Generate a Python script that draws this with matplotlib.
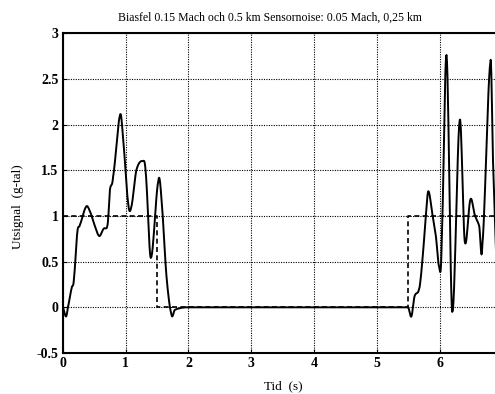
import numpy as np
import matplotlib
matplotlib.use("Agg")
import matplotlib.pyplot as plt

# ─── DATA ────────────────────────────────────────────────────────
t_out = [0.0, 0.05, 0.08, 0.14, 0.175, 0.23, 0.27, 0.37, 0.43, 0.51, 0.58,
         0.65, 0.70, 0.72, 0.75, 0.80, 0.91, 0.96, 1.04, 1.09, 1.17, 1.27,
         1.32, 1.40, 1.52, 1.57, 1.65, 1.73, 1.78, 1.86, 1.95,
         5.50, 5.55, 5.60, 5.66, 5.69, 5.74, 5.78, 5.82, 5.89, 5.94, 5.99,
         6.03, 6.11, 6.20, 6.32, 6.40, 6.49, 6.56, 6.63, 6.68, 6.81, 6.85, 6.90]
u_out = [0.0, -0.10, 0.0, 0.21, 0.30, 0.82, 0.90, 1.10, 1.05, 0.89, 0.78,
         0.86, 0.87, 0.96, 1.29, 1.43, 2.10, 1.83, 1.14, 1.10, 1.50, 1.60,
         1.47, 0.54, 1.38, 1.18, 0.34, -0.08, -0.03, -0.01, 0.0,
         0.0, -0.10, 0.12, 0.17, 0.27, 0.63, 1.00, 1.27, 1.00, 0.78, 0.45,
         0.63, 2.76, -0.05, 2.05, 0.72, 1.18, 1.01, 0.89, 0.68, 2.69, 1.60, 0.60]

t_ref = [0.0, 1.5, 1.5, 5.5, 5.5, 7.0]
u_ref = [1.0, 1.0, 0.0, 0.0, 1.0, 1.0]

title = "Biasfel 0.15 Mach och 0.5 km Sensornoise: 0.05 Mach, 0,25 km"
xlabel = "Tid  (s)"
ylabel = "Utsignal  (g-tal)"
xticks = [0, 1, 2, 3, 4, 5, 6]
yticks = [-0.5, 0, 0.5, 1, 1.5, 2, 2.5, 3]
ytick_labels = ["-0.5", "0", "0.5", "1", "1.5", "2", "2.5", "3"]

plt.rcParams["font.family"] = ["Liberation Serif", "DejaVu Serif"]

fig = plt.figure(figsize=(4.95, 3.94), dpi=100)
ax = fig.add_axes([0.127, 0.104, 0.888, 0.812])

# smooth the traced curve a little within each segment
def smooth(t, u, n=12):
    t = np.asarray(t); u = np.asarray(u)
    xs, ys = [], []
    for i in range(len(t) - 1):
        s = np.linspace(0, 1, n, endpoint=False)
        p0 = u[i - 1] if i > 0 else u[i]
        p1, p2 = u[i], u[i + 1]
        p3 = u[i + 2] if i + 2 < len(u) else u[i + 1]
        if t[i + 1] - t[i] > 1.0:
            p0, p3 = p1, p2
        y = 0.5 * ((2 * p1) + (-p0 + p2) * s + (2 * p0 - 5 * p1 + 4 * p2 - p3) * s ** 2
                   + (-p0 + 3 * p1 - 3 * p2 + p3) * s ** 3)
        xs.extend(t[i] + (t[i + 1] - t[i]) * s)
        ys.extend(y)
    xs.append(t[-1]); ys.append(u[-1])
    return xs, ys

xs, ys = smooth(t_out, u_out)
ax.plot(t_ref, u_ref, color="black", linestyle=(0, (3, 2)), linewidth=1.2)
ax.plot(xs, ys, color="black", linewidth=1.4)

ax.set_xlim(0, 7)
ax.set_ylim(-0.5, 3)
ax.set_xticks(xticks)
ax.set_yticks(yticks)
ax.set_yticklabels(ytick_labels)
ax.grid(True, color="black", linestyle=(0, (1, 1.2)), linewidth=0.8)
ax.tick_params(direction="in", length=3, labelsize=10, pad=3)
for lab in ax.get_xticklabels() + ax.get_yticklabels():
    lab.set_fontweight("bold")
for sp in ax.spines.values():
    sp.set_linewidth(1.5)

fig.text(270 / 495, 1 - 18 / 394, title, ha="center", va="center", fontsize=8.5)
fig.text(283 / 495, 1 - 386 / 394, xlabel, ha="center", va="center", fontsize=9.5)
fig.text(18 / 495, 1 - 207 / 394, ylabel, ha="center", va="center",
         rotation=90, fontsize=9.5)

fig.savefig("out.png", dpi=100)
